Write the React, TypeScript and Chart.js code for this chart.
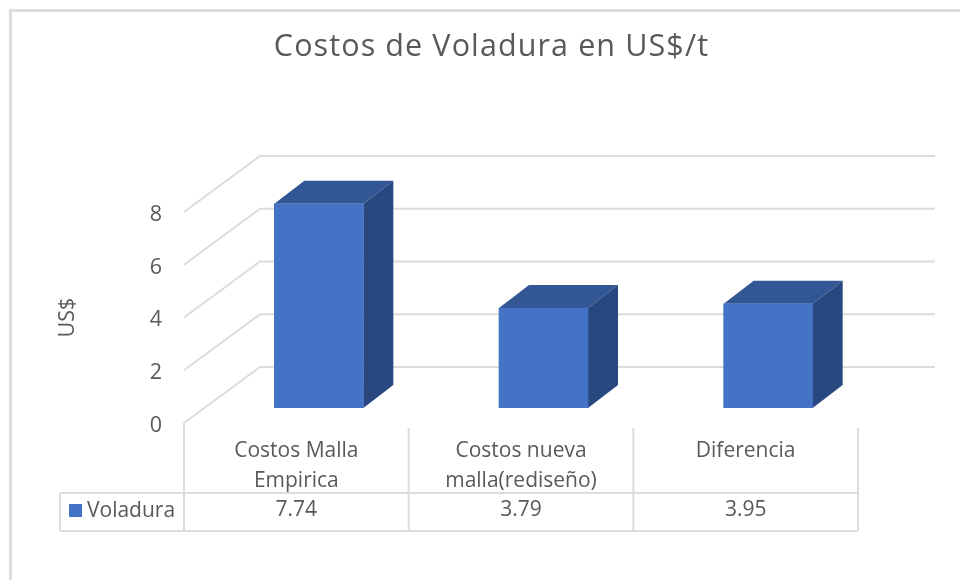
import React, { useEffect, useRef } from "react";
import { Chart, registerables } from "chart.js";

Chart.register(...registerables);

const titleText = "Costos de Voladura en US$/t";
const axisTitle = "US$";
const seriesName = "Voladura";
const categories = [["Costos Malla", "Empirica"], ["Costos nueva", "malla(rediseño)"], ["Diferencia"]];
const values = [7.74, 3.79, 3.95];
const valueLabels = ["7.74", "3.79", "3.95"];

const FONT = '"Open Sans", "Noto Sans", sans-serif';
const TEXT = "#595959";
const GRID = "#dcdcdc";
const BLUE = "#4472C4";
const TOP = "#335694";
const SIDE = "#2A4880";
const BAR_SHIFT = { x: 22.5, y: -15 };
const BAR_DEPTH = { x: 30, y: -23 };
const WALL = { x: 76, y: -56 };
const WALL_RIGHT = 935;

const line = (ctx: CanvasRenderingContext2D, pts: number[][]) => {
  ctx.beginPath();
  pts.forEach(([x, y], i) => (i ? ctx.lineTo(x, y) : ctx.moveTo(x, y)));
  ctx.stroke();
};
const poly = (ctx: CanvasRenderingContext2D, pts: number[][], color: string) => {
  ctx.fillStyle = color;
  ctx.beginPath();
  pts.forEach(([x, y], i) => (i ? ctx.lineTo(x, y) : ctx.moveTo(x, y)));
  ctx.closePath();
  ctx.fill();
};

const decor = {
  id: "decor",
  beforeDatasetsDraw(chart: any) {
    const { ctx, scales } = chart;
    const { x, y } = scales;
    ctx.save();
    // page frame
    ctx.strokeStyle = "#dedede";
    ctx.lineWidth = 3;
    line(ctx, [[10.5, 580], [10.5, 10.5], [960, 10.5]]);
    // title
    ctx.fillStyle = TEXT;
    ctx.font = `30.5px ${FONT}`;
    ctx.textAlign = "center";
    ctx.textBaseline = "middle";
    (ctx as any).letterSpacing = "1.1px";
    ctx.fillText(titleText, 491.5, 47);
    (ctx as any).letterSpacing = "0px";
    // floor + back-wall grid
    ctx.strokeStyle = GRID;
    ctx.lineWidth = 2;
    y.ticks.forEach((t: any) => {
      const py = y.getPixelForValue(t.value);
      line(ctx, [[x.left, py], [x.left + WALL.x, py + WALL.y], [WALL_RIGHT, py + WALL.y]]);
    });
    // data table
    const bottomRow = 493;
    const tableBottom = 531;
    const tableLeft = 60;
    const colW = (x.right - x.left) / categories.length;
    line(ctx, [[tableLeft, bottomRow], [x.right, bottomRow]]);
    line(ctx, [[tableLeft, tableBottom], [x.right, tableBottom]]);
    line(ctx, [[tableLeft, bottomRow], [tableLeft, tableBottom]]);
    line(ctx, [[x.left, y.bottom], [x.left, tableBottom]]);
    categories.forEach((_, i) => {
      line(ctx, [[x.left + colW * (i + 1), 428], [x.left + colW * (i + 1), tableBottom]]);
    });
    ctx.fillStyle = BLUE;
    ctx.fillRect(69, 504, 13, 13);
    ctx.fillStyle = TEXT;
    ctx.font = `21px ${FONT}`;
    ctx.textAlign = "left";
    ctx.fillText(seriesName, 87, 511);
    ctx.textAlign = "center";
    valueLabels.forEach((label, i) => {
      ctx.fillText(label, x.getPixelForTick(i), 510);
    });
    // 3D faces of the bars
    chart.getDatasetMeta(0).data.forEach((bar: any) => {
      const l = bar.x - bar.width / 2 + BAR_SHIFT.x;
      const r = bar.x + bar.width / 2 + BAR_SHIFT.x;
      const t = bar.y + BAR_SHIFT.y;
      const b = bar.base + BAR_SHIFT.y;
      const dx = BAR_DEPTH.x;
      const dy = BAR_DEPTH.y;
      poly(ctx, [[l, t], [l + dx, t + dy], [r + dx, t + dy], [r, t]], TOP);
      poly(ctx, [[r, t], [r + dx, t + dy], [r + dx, b + dy], [r, b]], SIDE);
    });
    ctx.restore();
    ctx.save();
    ctx.translate(BAR_SHIFT.x, BAR_SHIFT.y);
  },
  afterDatasetsDraw(chart: any) {
    chart.ctx.restore();
  },
};

export default function App() {
  const ref = useRef<HTMLCanvasElement>(null);
  useEffect(() => {
    const chart = new Chart(ref.current!, {
      type: "bar",
      data: {
        labels: categories,
        datasets: [{ label: seriesName, data: values, backgroundColor: BLUE, borderWidth: 0, barThickness: 89 }],
      },
      plugins: [decor],
      options: {
        animation: false,
        responsive: false,
        layout: { padding: { top: 212, right: 102, left: 0, bottom: 0 } },
        plugins: { legend: { display: false }, title: { display: false }, tooltip: { enabled: false } },
        scales: {
          x: {
            grid: { display: false },
            border: { display: false },
            afterFit: (s: any) => { s.height = 157; },
            ticks: {
              color: TEXT,
              font: { family: FONT, size: 21, lineHeight: 1.43 },
              padding: 5,
              maxRotation: 0,
              autoSkip: false,
            },
          },
          y: {
            min: 0,
            max: 8,
            grid: { display: false },
            border: { display: false },
            afterFit: (s: any) => { s.width = 184; },
            ticks: {
              stepSize: 2,
              color: TEXT,
              font: { family: FONT, size: 21.5, lineHeight: 0.25 },
              padding: 14,
              callback: (v: any) => ["", String(v)],
            },
            title: {
              display: true,
              text: axisTitle,
              color: TEXT,
              font: { family: FONT, size: 21.5 },
              padding: { top: 55, bottom: 0 },
            },
          },
        },
      } as any,
    });
    return () => chart.destroy();
  }, []);
  return (
    <div style={{ position: "fixed", left: 0, top: 0, width: 960, height: 580, background: "#fff" }}>
      <canvas ref={ref} width={960} height={580} style={{ display: "block", filter: "blur(0.4px)" }} />
    </div>
  );
}
